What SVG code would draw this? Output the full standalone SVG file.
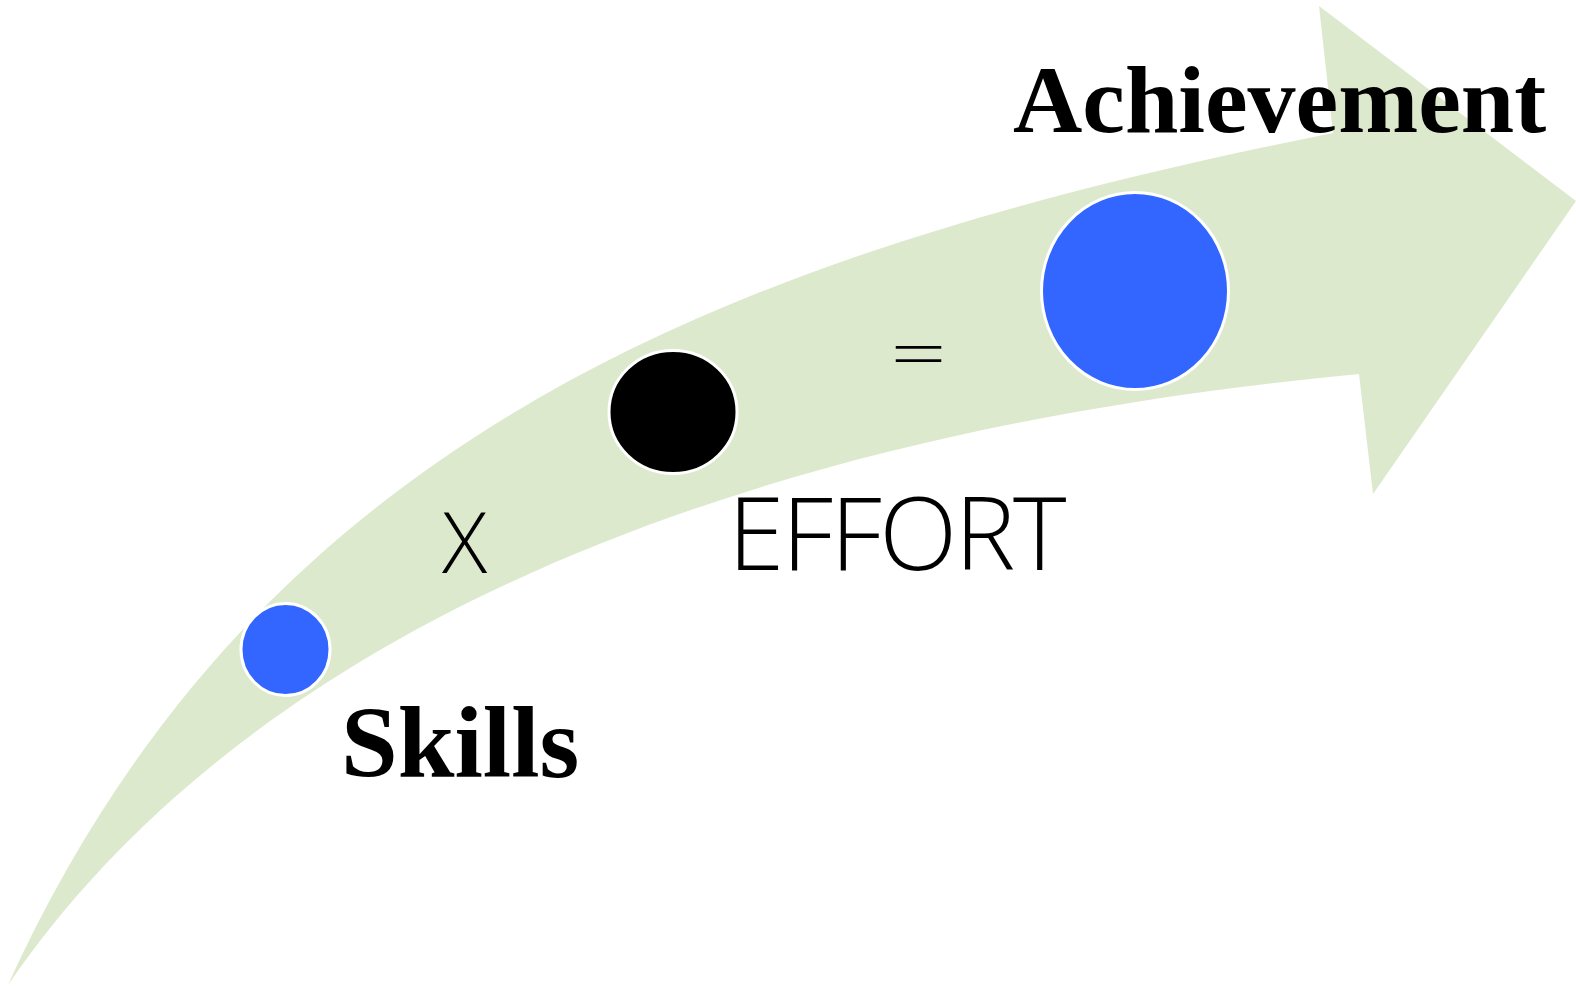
<svg xmlns="http://www.w3.org/2000/svg" width="1576" height="987" viewBox="0 0 1576 987">
  <style>
    .band { fill: #DDE9CD; }
    .dot { stroke: #FFFFFF; stroke-width: 3; }
    .blue { fill: #3366FF; }
    .black { fill: #000000; }
    .title { font-family: "Liberation Serif", "Times New Roman", serif; font-weight: bold; fill: #000000; }
    .thin { font-family: "Open Sans", "Lato", "Liberation Sans", sans-serif; font-weight: 300; fill: #000000; }
  </style>

  <!-- curved progress arrow: upper edge, head, then lower edge back to the tail -->
  <g id="connectors">
    <path class="band" d="M 8 985
      C 258 435 733 253 1333 133
      L 1319 6 L 1576 201 L 1373 494 L 1359 374
      C 759 430 258 620 8 985 Z"/>
  </g>

  <g id="skills">
    <ellipse class="dot blue" cx="285.5" cy="649.5" rx="44.5" ry="46"/>
    <text class="title" x="341" y="777" font-size="102">Skills</text>
  </g>

  <g id="times">
    <text class="thin" x="442" y="573" font-size="84">X</text>
  </g>

  <g id="effort">
    <ellipse class="dot black" cx="673" cy="412" rx="64" ry="61.5"/>
    <text class="thin" x="728" y="570" font-size="102" letter-spacing="-2.5">EFFORT</text>
  </g>

  <g id="equals">
    <text class="thin" transform="translate(918.5 376.9) scale(1.18 0.8)" x="0" y="0" font-size="84" text-anchor="middle">=</text>
  </g>

  <g id="achievement">
    <ellipse class="dot blue" cx="1135" cy="291" rx="93.5" ry="98.5"/>
    <text class="title" x="1013" y="132" font-size="96">Achievement</text>
  </g>
</svg>
